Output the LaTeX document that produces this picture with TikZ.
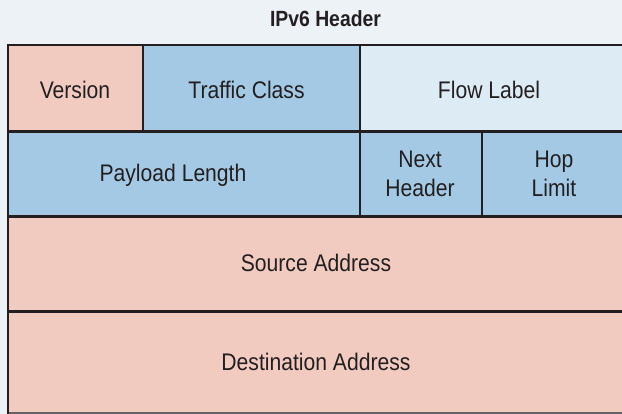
\documentclass[tikz,border=0pt]{standalone}
\usepackage{fontspec}
\setmainfont{Liberation Sans}[FakeStretch=0.88]
\definecolor{bg}{HTML}{EDF2F6}
\definecolor{pinkf}{HTML}{F2CBC0}
\definecolor{bluef}{HTML}{A3C9E4}
\definecolor{paleblue}{HTML}{DDEBF5}
\definecolor{ink}{HTML}{231F20}
\begin{document}
\begin{tikzpicture}[x=1pt,y=-1pt,
		label/.style={anchor=base,inner sep=0pt,text=ink,align=center,font=\fontsize{24}{29}\selectfont},
		title/.style={anchor=base,inner sep=0pt,text=ink,font=\fontsize{22}{26}\selectfont\bfseries},
		rowline/.style={ink,line width=3pt},
		colline/.style={ink,line width=2pt}]
		\useasboundingbox (0,0) rectangle (622,414);
		\clip (0,0) rectangle (622,414);
		\fill[bg] (0,0) rectangle (622,414);

		% fields
		\fill[pinkf]		(8,45)		rectangle (143,131);
		\fill[bluef]		(143,45)		rectangle (360,131);
		\fill[paleblue]	(360,45)		rectangle (630,131);
		\fill[bluef]		(8,131)		rectangle (630,217);
		\fill[pinkf]		(8,217)		rectangle (630,413);

		\node[title]	(hdr)		at (325.5,26.7)	{IPv6 Header};
		\node[label]	(ver)		at (75,99)		{Version};
		\node[label]	(tc)		at (246.5,99)		{Traffic Class};
		\node[label]	(fl)		at (489,99)		{Flow Label};
		\node[label]	(pl)		at (173,181.7)	{Payload Length};
		\node[label]	(nh)		at (420,197)		{Next\\Header};
		\node[label]	(hl)		at (554,197)		{Hop\\Limit};
		\node[label]	(src)		at (316,271.7)	{Source Address};
		\node[label]	(dst)		at (316,370.5)	{Destination Address};

		% grid
		\draw[ink,line width=2.7pt]	(7,45)	-- (630,45);
		\draw[rowline]	(8,131.5)	-- (630,131.5);
		\draw[rowline]	(8,216.5)	-- (630,216.5);
		\draw[rowline]	(8,312)	-- (630,312);
		\draw[ink!70,line width=1.5pt]	(8,413)	-- (630,413);
		\draw[colline]	(8,45)	-- (8,414);
		\draw[colline]	(143,45)	-- (143,131);
		\draw[colline]	(360,45)	-- (360,217);
		\draw[colline]	(482,131)	-- (482,217);
	\end{tikzpicture}
\end{document}
